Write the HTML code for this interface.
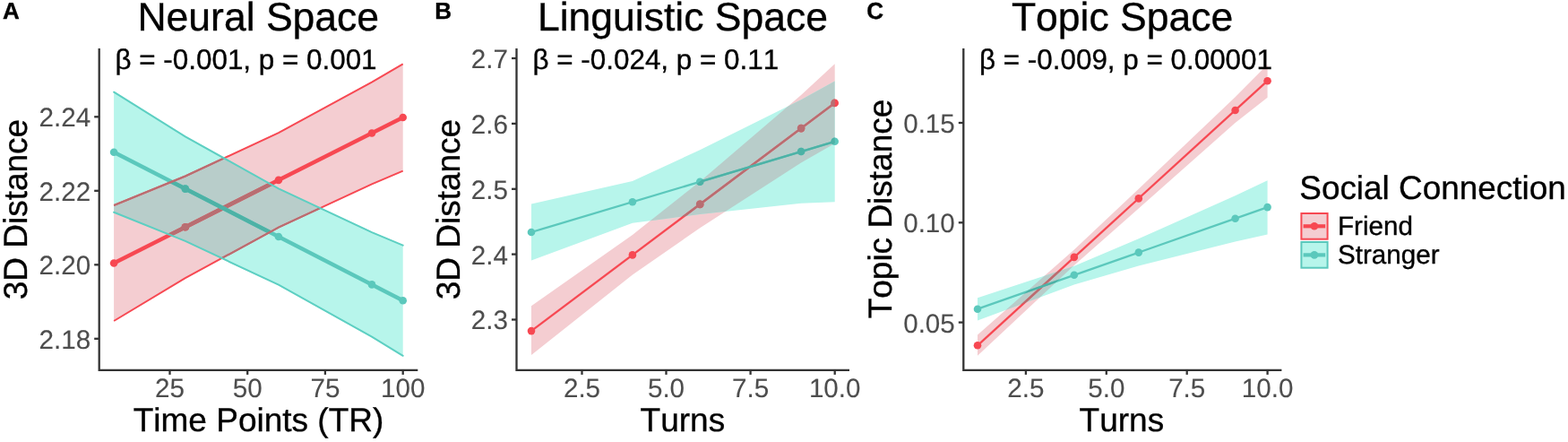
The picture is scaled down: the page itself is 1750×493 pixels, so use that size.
<!DOCTYPE html>
<html lang="en"><head><meta charset="utf-8"><title>Neural, Linguistic and Topic Space</title>
<style>
html,body{margin:0;padding:0;background:#fff}
body{width:1750px;height:493px;overflow:hidden}
svg{display:block}
text{font-family:"Liberation Sans",Arial,Helvetica,sans-serif;fill:#000;stroke:#000;stroke-width:0.35px;font-kerning:none;text-rendering:geometricPrecision}
.tk text{font-size:29.6px;fill:#4d4d4d;stroke:#4d4d4d;stroke-width:0.12px}
.ttl{font-size:44.5px}
.axl{font-size:37px}
.ann{font-size:31.4px}
.pl{font-size:26px;font-weight:bold}
.lt{font-size:36.9px}
.ll{font-size:29.6px}
</style></head><body>
<svg width="1750" height="493" viewBox="0 0 1750 493">
<rect width="1750" height="493" fill="#fff"/>
<g id="panelA">
<clipPath id="cfA"><polygon points="127.1,229 206.8,196.5 310.9,148.1 415,91.7 449.7,71.3 449.7,190.7 415,205.3 310.9,253.7 206.8,310.1 127.1,358"/></clipPath>
<clipPath id="csA"><polygon points="127.1,102.7 206.8,152.4 310.9,210.3 415,259.1 449.7,273.6 449.7,396.8 415,375.7 310.9,317.7 206.8,268.9 127.1,236.7"/></clipPath>
<polygon points="127.1,229 206.8,196.5 310.9,148.1 415,91.7 449.7,71.3 449.7,190.7 415,205.3 310.9,253.7 206.8,310.1 127.1,358" fill="#f4cdd1"/>
<polygon points="127.1,102.7 206.8,152.4 310.9,210.3 415,259.1 449.7,273.6 449.7,396.8 415,375.7 310.9,317.7 206.8,268.9 127.1,236.7" fill="#b7f5eb"/>
<polygon points="127.1,102.7 206.8,152.4 310.9,210.3 415,259.1 449.7,273.6 449.7,396.8 415,375.7 310.9,317.7 206.8,268.9 127.1,236.7" fill="#b8cdca" clip-path="url(#cfA)"/>
<g><line x1="127.1" y1="293.5" x2="449.7" y2="131" stroke="#f74852" stroke-width="4.4"/><circle cx="127.1" cy="293.5" r="4.3" fill="#f74852"/><circle cx="206.8" cy="253.3" r="4.3" fill="#f74852"/><circle cx="310.9" cy="200.9" r="4.3" fill="#f74852"/><circle cx="415" cy="148.5" r="4.3" fill="#f74852"/><circle cx="449.7" cy="131" r="4.3" fill="#f74852"/></g>
<g clip-path="url(#csA)"><line x1="127.1" y1="293.5" x2="449.7" y2="131" stroke="#b86e72" stroke-width="4.4"/><circle cx="127.1" cy="293.5" r="4.3" fill="#b86e72"/><circle cx="206.8" cy="253.3" r="4.3" fill="#b86e72"/><circle cx="310.9" cy="200.9" r="4.3" fill="#b86e72"/><circle cx="415" cy="148.5" r="4.3" fill="#b86e72"/><circle cx="449.7" cy="131" r="4.3" fill="#b86e72"/></g>
<g><line x1="127.1" y1="169.7" x2="449.7" y2="335.2" stroke="#5bc8bc" stroke-width="4.4"/><circle cx="127.1" cy="169.7" r="4.3" fill="#5bc8bc"/><circle cx="206.8" cy="210.6" r="4.3" fill="#5bc8bc"/><circle cx="310.9" cy="264" r="4.3" fill="#5bc8bc"/><circle cx="415" cy="317.4" r="4.3" fill="#5bc8bc"/><circle cx="449.7" cy="335.2" r="4.3" fill="#5bc8bc"/></g>
<g clip-path="url(#cfA)"><line x1="127.1" y1="169.7" x2="449.7" y2="335.2" stroke="#4db2a6" stroke-width="4.4"/><circle cx="127.1" cy="169.7" r="4.3" fill="#4db2a6"/><circle cx="206.8" cy="210.6" r="4.3" fill="#4db2a6"/><circle cx="310.9" cy="264" r="4.3" fill="#4db2a6"/><circle cx="415" cy="317.4" r="4.3" fill="#4db2a6"/><circle cx="449.7" cy="335.2" r="4.3" fill="#4db2a6"/></g>
<g fill="none" stroke-width="2">
<polyline points="127.1,229 206.8,196.5 310.9,148.1 415,91.7 449.7,71.3" stroke="#f74852"/>
<polyline points="127.1,358 206.8,310.1 310.9,253.7 415,205.3 449.7,190.7" stroke="#f74852"/>
<g clip-path="url(#csA)"><polyline points="127.1,229 206.8,196.5 310.9,148.1 415,91.7 449.7,71.3" stroke="#b86e72"/><polyline points="127.1,358 206.8,310.1 310.9,253.7 415,205.3 449.7,190.7" stroke="#b86e72"/></g>
<polyline points="127.1,102.7 206.8,152.4 310.9,210.3 415,259.1 449.7,273.6" stroke="#5ccfc2" stroke-linecap="round"/>
<polyline points="127.1,236.7 206.8,268.9 310.9,317.7 415,375.7 449.7,396.8" stroke="#5ccfc2" stroke-linecap="round"/>
</g>
<g stroke="#333333" stroke-width="2.3" fill="none">
<polyline points="110.7,54 110.7,412.9 466.3,412.9"/>
<line x1="189.5" y1="412.9" x2="189.5" y2="417.9"/>
<line x1="276.2" y1="412.9" x2="276.2" y2="417.9"/>
<line x1="362.9" y1="412.9" x2="362.9" y2="417.9"/>
<line x1="449.7" y1="412.9" x2="449.7" y2="417.9"/>
<line x1="105.2" y1="130.3" x2="110.7" y2="130.3"/>
<line x1="105.2" y1="212.8" x2="110.7" y2="212.8"/>
<line x1="105.2" y1="295.3" x2="110.7" y2="295.3"/>
<line x1="105.2" y1="377.8" x2="110.7" y2="377.8"/>
</g>
<g class="tk">
<text transform="translate(189.5 442.8)" text-anchor="middle">25</text>
<text transform="translate(276.2 442.8)" text-anchor="middle">50</text>
<text transform="translate(362.9 442.8)" text-anchor="middle">75</text>
<text transform="translate(449.7 442.8)" text-anchor="middle">100</text>
<text transform="translate(101.2 141.2)" text-anchor="end">2.24</text>
<text transform="translate(101.2 223.7)" text-anchor="end">2.22</text>
<text transform="translate(101.2 306.2)" text-anchor="end">2.20</text>
<text transform="translate(101.2 388.7)" text-anchor="end">2.18</text>
</g>
<text class="ann" transform="translate(128.5 77)">β = -0.001, p = 0.001</text>
<text class="ttl" transform="translate(288.3 34)" text-anchor="middle">Neural Space</text>
<text class="axl" transform="translate(288.5 481.4)" text-anchor="middle">Time Points (TR)</text>
<text class="axl" transform="translate(29.8,233.6) rotate(-90)" text-anchor="middle">3D Distance</text>
<text class="pl" transform="translate(3 21.3)">A</text>
</g>
<g id="panelB">
<clipPath id="cfB"><polygon points="593,341.3 705.9,261.9 781.2,202.4 894.1,105.9 931.7,71.3 931.7,160 894.1,181.6 781.2,254.3 705.9,306.5 593,396.1"/></clipPath>
<clipPath id="csB"><polygon points="593,227.5 705.9,202 781.2,167.2 894.1,111.3 931.7,90.6 931.7,225.2 894.1,226.7 781.2,239 705.9,248.8 593,290.5"/></clipPath>
<polygon points="593,341.3 705.9,261.9 781.2,202.4 894.1,105.9 931.7,71.3 931.7,160 894.1,181.6 781.2,254.3 705.9,306.5 593,396.1" fill="#f4cdd1"/>
<polygon points="593,227.5 705.9,202 781.2,167.2 894.1,111.3 931.7,90.6 931.7,225.2 894.1,226.7 781.2,239 705.9,248.8 593,290.5" fill="#b7f5eb"/>
<polygon points="593,227.5 705.9,202 781.2,167.2 894.1,111.3 931.7,90.6 931.7,225.2 894.1,226.7 781.2,239 705.9,248.8 593,290.5" fill="#b8cdca" clip-path="url(#cfB)"/>
<g><line x1="593" y1="369.1" x2="931.7" y2="114.9" stroke="#f74852" stroke-width="2.3"/><circle cx="593" cy="369.1" r="4.3" fill="#f74852"/><circle cx="705.9" cy="284.4" r="4.3" fill="#f74852"/><circle cx="781.2" cy="227.9" r="4.3" fill="#f74852"/><circle cx="894.1" cy="143.1" r="4.3" fill="#f74852"/><circle cx="931.7" cy="114.9" r="4.3" fill="#f74852"/></g>
<g clip-path="url(#csB)"><line x1="593" y1="369.1" x2="931.7" y2="114.9" stroke="#b86e72" stroke-width="2.3"/><circle cx="593" cy="369.1" r="4.3" fill="#b86e72"/><circle cx="705.9" cy="284.4" r="4.3" fill="#b86e72"/><circle cx="781.2" cy="227.9" r="4.3" fill="#b86e72"/><circle cx="894.1" cy="143.1" r="4.3" fill="#b86e72"/><circle cx="931.7" cy="114.9" r="4.3" fill="#b86e72"/></g>
<g><line x1="593" y1="259" x2="931.7" y2="157.8" stroke="#5bc8bc" stroke-width="2.3"/><circle cx="593" cy="259" r="4.3" fill="#5bc8bc"/><circle cx="705.9" cy="225.3" r="4.3" fill="#5bc8bc"/><circle cx="781.2" cy="202.8" r="4.3" fill="#5bc8bc"/><circle cx="894.1" cy="169" r="4.3" fill="#5bc8bc"/><circle cx="931.7" cy="157.8" r="4.3" fill="#5bc8bc"/></g>
<g clip-path="url(#cfB)"><line x1="593" y1="259" x2="931.7" y2="157.8" stroke="#4db2a6" stroke-width="2.3"/><circle cx="593" cy="259" r="4.3" fill="#4db2a6"/><circle cx="705.9" cy="225.3" r="4.3" fill="#4db2a6"/><circle cx="781.2" cy="202.8" r="4.3" fill="#4db2a6"/><circle cx="894.1" cy="169" r="4.3" fill="#4db2a6"/><circle cx="931.7" cy="157.8" r="4.3" fill="#4db2a6"/></g>
<g stroke="#333333" stroke-width="2.3" fill="none">
<polyline points="576.5,54 576.5,412.9 948,412.9"/>
<line x1="649.5" y1="412.9" x2="649.5" y2="417.9"/>
<line x1="743.5" y1="412.9" x2="743.5" y2="417.9"/>
<line x1="837.6" y1="412.9" x2="837.6" y2="417.9"/>
<line x1="931.7" y1="412.9" x2="931.7" y2="417.9"/>
<line x1="571" y1="65" x2="576.5" y2="65"/>
<line x1="571" y1="137.9" x2="576.5" y2="137.9"/>
<line x1="571" y1="210.8" x2="576.5" y2="210.8"/>
<line x1="571" y1="283.6" x2="576.5" y2="283.6"/>
<line x1="571" y1="356.5" x2="576.5" y2="356.5"/>
</g>
<g class="tk">
<text transform="translate(649.5 442.8)" text-anchor="middle">2.5</text>
<text transform="translate(743.5 442.8)" text-anchor="middle">5.0</text>
<text transform="translate(837.6 442.8)" text-anchor="middle">7.5</text>
<text transform="translate(931.7 442.8)" text-anchor="middle">10.0</text>
<text transform="translate(567 75.9)" text-anchor="end">2.7</text>
<text transform="translate(567 148.8)" text-anchor="end">2.6</text>
<text transform="translate(567 221.7)" text-anchor="end">2.5</text>
<text transform="translate(567 294.5)" text-anchor="end">2.4</text>
<text transform="translate(567 367.4)" text-anchor="end">2.3</text>
</g>
<text class="ann" transform="translate(594.5 77)">β = -0.024, p = 0.11</text>
<text class="ttl" transform="translate(762 34)" text-anchor="middle">Linguistic Space</text>
<text class="axl" transform="translate(761.9 481.4)" text-anchor="middle">Turns</text>
<text class="axl" transform="translate(512.6,233.6) rotate(-90)" text-anchor="middle">3D Distance</text>
<text class="pl" transform="translate(485.3 21.3)">B</text>
</g>
<g id="panelC">
<clipPath id="cfC"><polygon points="1091,373.5 1198.8,278.5 1270.8,210.7 1378.6,108.2 1414.6,72 1414.6,108.8 1378.6,136.9 1270.8,232.6 1198.8,295.9 1091,396.8"/></clipPath>
<clipPath id="csC"><polygon points="1091,332.3 1198.8,296.8 1270.8,266.3 1378.6,218.3 1414.6,201.3 1414.6,261.4 1378.6,269.4 1270.8,296.6 1198.8,317.6 1091,357.5"/></clipPath>
<polygon points="1091,373.5 1198.8,278.5 1270.8,210.7 1378.6,108.2 1414.6,72 1414.6,108.8 1378.6,136.9 1270.8,232.6 1198.8,295.9 1091,396.8" fill="#f4cdd1"/>
<polygon points="1091,332.3 1198.8,296.8 1270.8,266.3 1378.6,218.3 1414.6,201.3 1414.6,261.4 1378.6,269.4 1270.8,296.6 1198.8,317.6 1091,357.5" fill="#b7f5eb"/>
<polygon points="1091,332.3 1198.8,296.8 1270.8,266.3 1378.6,218.3 1414.6,201.3 1414.6,261.4 1378.6,269.4 1270.8,296.6 1198.8,317.6 1091,357.5" fill="#b8cdca" clip-path="url(#cfC)"/>
<g><line x1="1091" y1="385.3" x2="1414.6" y2="90.2" stroke="#f74852" stroke-width="2.3"/><circle cx="1091" cy="385.3" r="4.3" fill="#f74852"/><circle cx="1198.8" cy="286.9" r="4.3" fill="#f74852"/><circle cx="1270.8" cy="221.4" r="4.3" fill="#f74852"/><circle cx="1378.6" cy="123" r="4.3" fill="#f74852"/><circle cx="1414.6" cy="90.2" r="4.3" fill="#f74852"/></g>
<g clip-path="url(#csC)"><line x1="1091" y1="385.3" x2="1414.6" y2="90.2" stroke="#b86e72" stroke-width="2.3"/><circle cx="1091" cy="385.3" r="4.3" fill="#b86e72"/><circle cx="1198.8" cy="286.9" r="4.3" fill="#b86e72"/><circle cx="1270.8" cy="221.4" r="4.3" fill="#b86e72"/><circle cx="1378.6" cy="123" r="4.3" fill="#b86e72"/><circle cx="1414.6" cy="90.2" r="4.3" fill="#b86e72"/></g>
<g><line x1="1091" y1="344.7" x2="1414.6" y2="231.1" stroke="#5bc8bc" stroke-width="2.3"/><circle cx="1091" cy="344.7" r="4.3" fill="#5bc8bc"/><circle cx="1198.8" cy="306.8" r="4.3" fill="#5bc8bc"/><circle cx="1270.8" cy="281.6" r="4.3" fill="#5bc8bc"/><circle cx="1378.6" cy="243.7" r="4.3" fill="#5bc8bc"/><circle cx="1414.6" cy="231.1" r="4.3" fill="#5bc8bc"/></g>
<g clip-path="url(#cfC)"><line x1="1091" y1="344.7" x2="1414.6" y2="231.1" stroke="#4db2a6" stroke-width="2.3"/><circle cx="1091" cy="344.7" r="4.3" fill="#4db2a6"/><circle cx="1198.8" cy="306.8" r="4.3" fill="#4db2a6"/><circle cx="1270.8" cy="281.6" r="4.3" fill="#4db2a6"/><circle cx="1378.6" cy="243.7" r="4.3" fill="#4db2a6"/><circle cx="1414.6" cy="231.1" r="4.3" fill="#4db2a6"/></g>
<g stroke="#333333" stroke-width="2.3" fill="none">
<polyline points="1075.3,54 1075.3,412.9 1430.4,412.9"/>
<line x1="1144.9" y1="412.9" x2="1144.9" y2="417.9"/>
<line x1="1234.8" y1="412.9" x2="1234.8" y2="417.9"/>
<line x1="1324.7" y1="412.9" x2="1324.7" y2="417.9"/>
<line x1="1414.6" y1="412.9" x2="1414.6" y2="417.9"/>
<line x1="1069.8" y1="137" x2="1075.3" y2="137"/>
<line x1="1069.8" y1="248.3" x2="1075.3" y2="248.3"/>
<line x1="1069.8" y1="359.6" x2="1075.3" y2="359.6"/>
</g>
<g class="tk">
<text transform="translate(1144.9 442.8)" text-anchor="middle">2.5</text>
<text transform="translate(1234.8 442.8)" text-anchor="middle">5.0</text>
<text transform="translate(1324.7 442.8)" text-anchor="middle">7.5</text>
<text transform="translate(1414.6 442.8)" text-anchor="middle">10.0</text>
<text transform="translate(1065.8 147.9)" text-anchor="end">0.15</text>
<text transform="translate(1065.8 259.2)" text-anchor="end">0.10</text>
<text transform="translate(1065.8 370.5)" text-anchor="end">0.05</text>
</g>
<text class="ann" transform="translate(1093 77)">β = -0.009, p = 0.00001</text>
<text class="ttl" transform="translate(1252.6 34)" text-anchor="middle">Topic Space</text>
<text class="axl" transform="translate(1251.9 481.4)" text-anchor="middle">Turns</text>
<text class="axl" transform="translate(994.5,233) rotate(-90)" text-anchor="middle">Topic Distance</text>
<text class="pl" transform="translate(967.2 21.3)">C</text>
</g>
<g id="legend">
<text class="lt" transform="translate(1450.3 222.1)">Social Connection</text>
<rect x="1452.4" y="238" width="29.2" height="28.7" fill="#f4cdd1" stroke="#f74852" stroke-width="2"/>
<line x1="1454.6" y1="252.3" x2="1479.2" y2="252.3" stroke="#f74852" stroke-width="4.2"/>
<circle cx="1466.9" cy="252.3" r="4.3" fill="#f74852"/>
<text class="ll" transform="translate(1493 262.4)">Friend</text>
<rect x="1452.4" y="270" width="29.2" height="28.7" fill="#b7f5eb" stroke="#5bc8bc" stroke-width="2"/>
<line x1="1454.6" y1="284.4" x2="1479.2" y2="284.4" stroke="#5bc8bc" stroke-width="4.2"/>
<circle cx="1466.9" cy="284.4" r="4.3" fill="#5bc8bc"/>
<text class="ll" transform="translate(1493 293.7)">Stranger</text>
</g>
</svg></body></html>
